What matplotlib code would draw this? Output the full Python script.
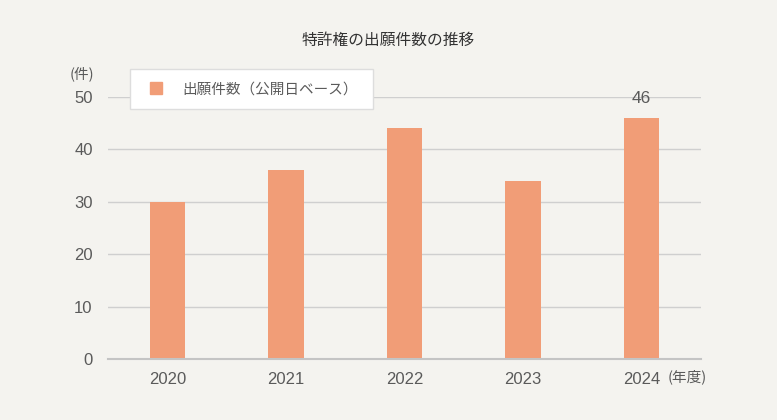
import matplotlib
matplotlib.use("Agg")
import matplotlib.pyplot as plt
from matplotlib.lines import Line2D

plt.rcParams['font.family'] = ['Noto Sans CJK JP', 'DejaVu Sans']

years = ["2020", "2021", "2022", "2023", "2024"]
counts = [30, 36, 44, 34, 46]
yticks = [0, 10, 20, 30, 40, 50]
title = "特許権の出願件数の推移"
series_label = "出願件数（公開日ベース）"

bg = "#F4F3EF"
bar_color = "#F19D77"
text_color = "#5A5A5A"
num_font = ['Liberation Sans', 'DejaVu Sans']

fig = plt.figure(figsize=(7.77, 4.2), dpi=100, facecolor=bg)
ax = fig.add_axes([108/777, 1-359/420, (701-108)/777, (359-97)/420], facecolor=bg)

x = list(range(len(years)))
ax.bar(x, counts, width=0.3, color=bar_color, label=series_label, zorder=3)
ax.set_xlim(-0.5, len(years) - 0.5)
ax.set_ylim(0, 50)
ax.set_yticks(yticks)
ax.set_xticks(x)
ax.set_xticklabels(years)
ax.tick_params(axis='both', length=0, colors=text_color, labelsize=12)
ax.tick_params(axis='y', pad=11)
ax.tick_params(axis='x', pad=9)
for lab in ax.get_xticklabels() + ax.get_yticklabels():
    lab.set_fontfamily(num_font)
ax.grid(axis='y', color="#CFCFCF", linewidth=1, zorder=0)
for s in ["top", "right", "left"]:
    ax.spines[s].set_visible(False)
ax.spines["bottom"].set_color("#C4C4C4")
ax.spines["bottom"].set_linewidth(1.5)
ax.spines["bottom"].set_zorder(4)

# value label on the last bar
ax.text(x[-1], counts[-1] + 3.8, str(counts[-1]), ha='center', va='center',
        color=text_color, fontsize=12.5, family=num_font)

fig.text(388/777, 1-40/420, title, ha='center', va='center', fontsize=11.3, color="#333333")
fig.text(82/777, 1-74/420, "(件)", ha='center', va='center', fontsize=10.5, color=text_color)
fig.text(687/777, 1-377/420, "(年度)", ha='center', va='center', fontsize=10.5, color=text_color)

handle = Line2D([], [], marker='s', color=bar_color, linestyle='none', markersize=8.6)
x0 = (130-108)/(701-108)
w = (373-130)/(701-108)
y1 = (359-69)/(359-97)
leg = ax.legend(handles=[handle], labels=[series_label],
                loc='upper left', bbox_to_anchor=(x0, y1 - 0.2, w, 0.2), mode='expand',
                frameon=True, fancybox=False, fontsize=10.5, handlelength=1.78,
                borderpad=0.9, handletextpad=0.9, borderaxespad=0, labelcolor=text_color)
leg.get_frame().set_facecolor("white")
leg.get_frame().set_edgecolor("#DDDDDD")
leg.get_frame().set_linewidth(1)
leg.get_frame().set_alpha(1)
leg.set_zorder(5)

fig.savefig("out.png", dpi=100, facecolor=bg)
